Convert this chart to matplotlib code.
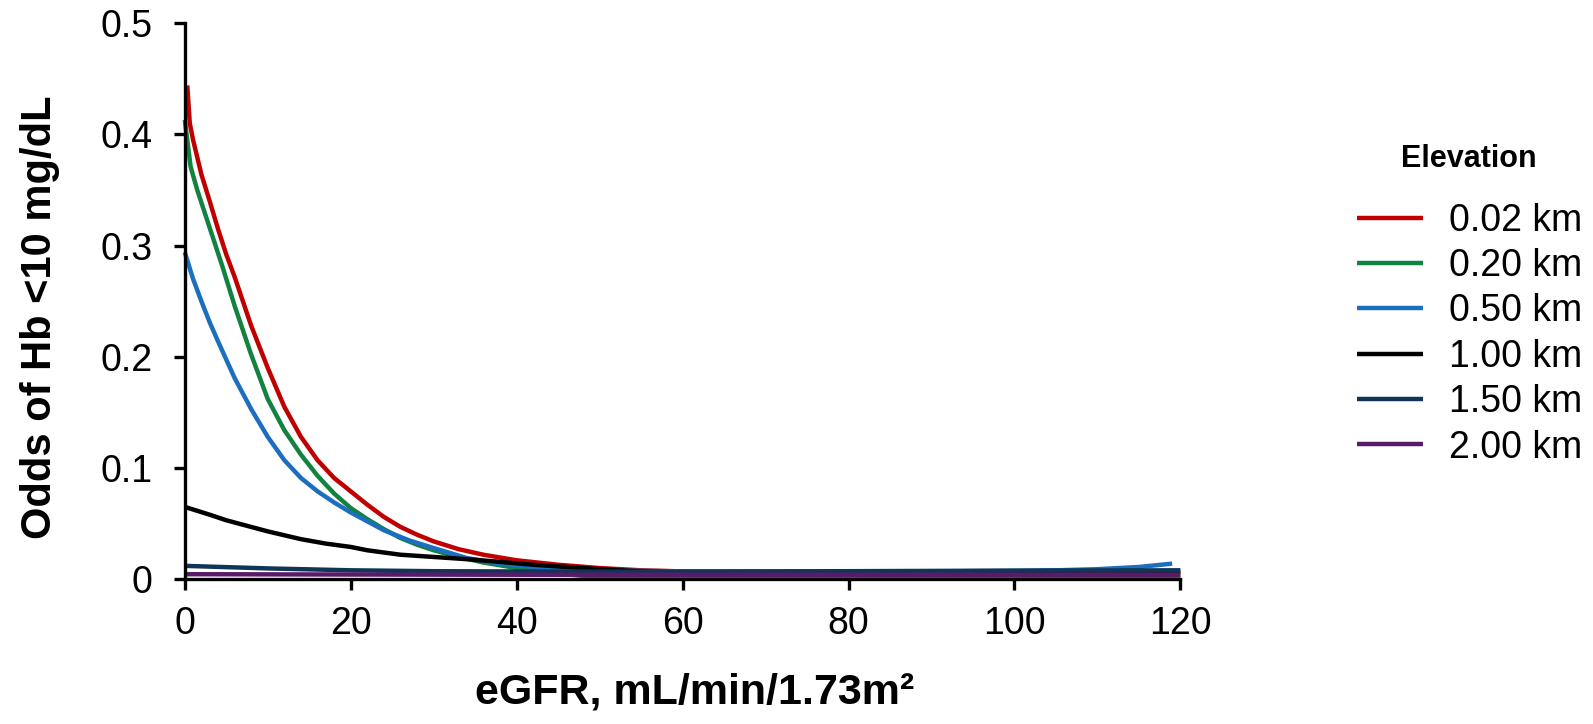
import matplotlib

matplotlib.use("Agg")
import matplotlib.pyplot as plt

plt.rcParams["font.family"] = ["Liberation Sans", "DejaVu Sans"]

# Predicted odds of Hb <10 mg/dL by eGFR, one curve per elevation
elev_labels = ["0.02 km", "0.20 km", "0.50 km", "1.00 km", "1.50 km", "2.00 km"]
elev_colors = ["#C00000", "#11823F", "#1C6EBF", "#000000", "#0F3557", "#5A1A6A"]

egfr_002 = [0.3, 0.6, 1, 2, 3, 4, 5, 6, 8, 10, 12, 14, 16, 18, 20, 22, 24, 26,
            28, 30, 33, 36, 40, 45, 50, 55, 60, 70, 80, 90, 100, 110, 119]
odds_002 = [0.444, 0.41, 0.395, 0.364, 0.34, 0.315, 0.292, 0.272, 0.228, 0.19,
            0.155, 0.128, 0.107, 0.091, 0.079, 0.067, 0.056, 0.047, 0.040, 0.034,
            0.027, 0.022, 0.017, 0.013, 0.010, 0.008, 0.007, 0.006, 0.006, 0.006,
            0.006, 0.006, 0.006]

egfr_020 = [0, 0.7, 1.5, 3, 4.5, 6, 8, 10, 12, 14, 16, 18, 20, 22, 24, 26, 28,
            30, 33, 36, 40, 44, 48, 55, 70, 90, 110, 120]
odds_020 = [0.413, 0.371, 0.35, 0.316, 0.282, 0.246, 0.202, 0.162, 0.134, 0.112,
            0.093, 0.077, 0.064, 0.054, 0.045, 0.037, 0.031, 0.026, 0.020, 0.015,
            0.010, 0.006, 0.003, 0.0015, 0.0015, 0.0015, 0.0015, 0.0015]

egfr_050 = [0, 1, 2, 3, 4, 6, 8, 10, 12, 14, 16, 18, 20, 22, 24, 27, 30, 34, 38,
            42, 46, 50, 60, 70, 80, 90, 100, 105, 110, 115, 119]
odds_050 = [0.294, 0.27, 0.25, 0.231, 0.214, 0.181, 0.153, 0.128, 0.107, 0.091,
            0.079, 0.069, 0.060, 0.052, 0.044, 0.035, 0.028, 0.019, 0.014, 0.011,
            0.009, 0.008, 0.007, 0.007, 0.007, 0.007, 0.0075, 0.008, 0.009, 0.011,
            0.014]

egfr_100 = [0, 3, 5, 8, 10, 14, 17, 20, 22, 26, 30, 34, 38, 42, 46, 50, 55, 60,
            80, 100, 120]
odds_100 = [0.065, 0.058, 0.053, 0.047, 0.043, 0.036, 0.032, 0.029, 0.026, 0.022,
            0.020, 0.018, 0.0156, 0.013, 0.011, 0.009, 0.007, 0.006, 0.006, 0.006,
            0.006]

egfr_150 = [0, 10, 20, 30, 45, 60, 80, 100, 120]
odds_150 = [0.012, 0.0097, 0.008, 0.0072, 0.0068, 0.0068, 0.0072, 0.0077, 0.008]

egfr_200 = [0, 20, 40, 60, 80, 100, 120]
odds_200 = [0.0045, 0.0042, 0.004, 0.004, 0.004, 0.004, 0.004]

series = [
    (egfr_002, odds_002),
    (egfr_020, odds_020),
    (egfr_050, odds_050),
    (egfr_100, odds_100),
    (egfr_150, odds_150),
    (egfr_200, odds_200),
]

x_ticks = [0, 20, 40, 60, 80, 100, 120]
y_ticks = [0, 0.1, 0.2, 0.3, 0.4, 0.5]
y_tick_labels = ["0", "0.1", "0.2", "0.3", "0.4", "0.5"]

fig = plt.figure(figsize=(15.93, 7.24), dpi=100)
ax = fig.add_axes([0.116, 0.2, 0.625, 0.768])

for (xs, ys), lab, col in zip(series, elev_labels, elev_colors):
    ax.plot(xs, ys, color=col, lw=3.2, label=lab, clip_on=False,
            solid_capstyle="butt")

ax.set_xlim(0, 120)
ax.set_ylim(0, 0.5)
ax.set_xticks(x_ticks)
ax.set_xticklabels([str(t) for t in x_ticks])
ax.set_yticks(y_ticks)
ax.set_yticklabels(y_tick_labels)
ax.tick_params(axis="both", direction="out", length=8, width=2.4,
               labelsize=27)
ax.tick_params(axis="y", pad=15)
ax.tick_params(axis="x", pad=11)
for side in ("top", "right"):
    ax.spines[side].set_visible(False)
for side in ("left", "bottom"):
    ax.spines[side].set_linewidth(2.4)

fig.text(0.436, 0.044, "eGFR, mL/min/1.73m\u00b2", ha="center", va="center",
         fontsize=31, fontweight="bold")
fig.text(0.025, 0.562, "Odds of Hb <10 mg/dL", ha="center", va="center",
         rotation=90, fontsize=30, fontweight="bold")

fig.text(0.922, 0.781, "Elevation", ha="center", va="center",
         fontsize=22, fontweight="bold")
ax.legend(loc="upper left", bbox_to_anchor=(0.852, 0.72),
          bbox_transform=fig.transFigure, frameon=False, fontsize=27,
          handlelength=1.75, handletextpad=0.7, labelspacing=0.25,
          borderpad=0, borderaxespad=0)

fig.savefig("out.png", dpi=100)
